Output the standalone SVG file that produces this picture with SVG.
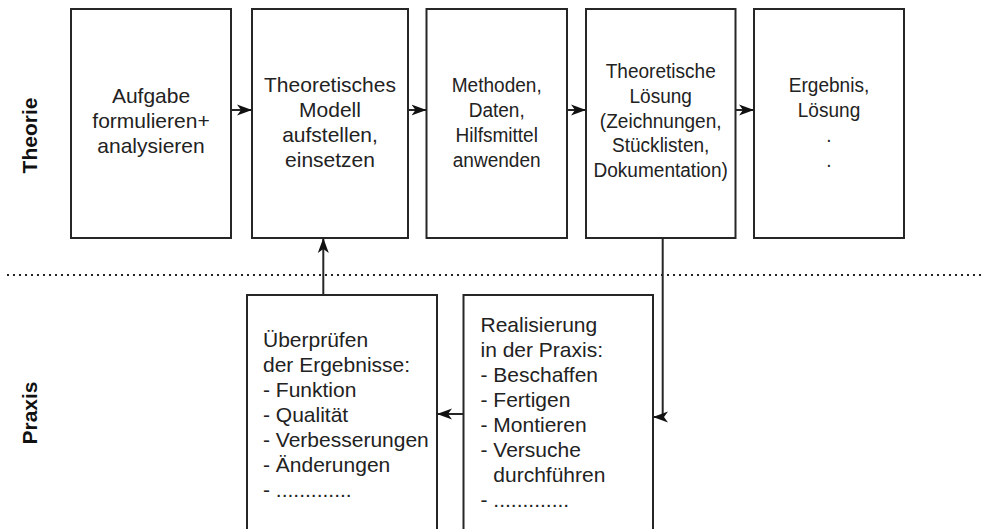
<svg xmlns="http://www.w3.org/2000/svg" width="982" height="529" viewBox="0 0 982 529">
<style>
.box{fill:#fff;stroke:#262626;stroke-width:2}
.t{font-family:"Liberation Sans",Arial,sans-serif;font-size:21px;fill:#222}
.c{text-anchor:middle}
.lbl{font-family:"Liberation Sans",Arial,sans-serif;font-size:21px;font-weight:bold;fill:#111;text-anchor:middle}
.con{fill:none;stroke:#262626;stroke-width:2}
.sep{fill:none;stroke:#222;stroke-width:2;stroke-dasharray:2 4}
</style>
<defs>
<marker id="arr" markerUnits="userSpaceOnUse" markerWidth="16" markerHeight="12" refX="15" refY="6" orient="auto">
<path d="M0,0.5 L15,6 L0,11.5 L4,6 Z" fill="#111"/>
</marker>
</defs>
<rect width="982" height="529" fill="#fff"/>
<line class="sep" x1="7" y1="275" x2="982" y2="275"/>
<text class="lbl" transform="translate(37,135.5) rotate(-90)">Theorie</text>
<text class="lbl" transform="translate(37,413) rotate(-90)">Praxis</text>
<g id="n1">
<rect class="box" x="71" y="9" width="160" height="229"/>
<text class="t c"><tspan x="151" y="103">Aufgabe</tspan><tspan x="151" y="128">formulieren+</tspan><tspan x="151" y="153">analysieren</tspan></text>
</g>
<g id="n2">
<rect class="box" x="252" y="9" width="156" height="229"/>
<text class="t c"><tspan x="330" y="91.7">Theoretisches</tspan><tspan x="330" y="116.7">Modell</tspan><tspan x="330" y="141.7">aufstellen,</tspan><tspan x="330" y="166.7">einsetzen</tspan></text>
</g>
<g id="n3">
<rect class="box" x="426.5" y="9" width="140.5" height="229"/>
<text class="t c" transform="translate(496.7,0) scale(0.907,1)"><tspan x="0" y="91.7">Methoden,</tspan><tspan x="0" y="116.7">Daten,</tspan><tspan x="0" y="141.7">Hilfsmittel</tspan><tspan x="0" y="166.7">anwenden</tspan></text>
</g>
<g id="n4">
<rect class="box" x="586" y="9" width="149.5" height="229"/>
<text class="t c" transform="translate(660.7,0) scale(0.907,1)"><tspan x="0" y="78.3">Theoretische</tspan><tspan x="0" y="103">Lösung</tspan><tspan x="0" y="127.7">(Zeichnungen,</tspan><tspan x="0" y="152.4">Stücklisten,</tspan><tspan x="0" y="177.1">Dokumentation)</tspan></text>
</g>
<g id="n5">
<rect class="box" x="754" y="9" width="150" height="229"/>
<text class="t c" transform="translate(829,0) scale(0.907,1)"><tspan x="0" y="91.7">Ergebnis,</tspan><tspan x="0" y="116.7">Lösung</tspan><tspan x="0" y="141.7">.</tspan><tspan x="0" y="166.7">.</tspan></text>
</g>
<g id="n6">
<rect class="box" x="247" y="295" width="190" height="250"/>
<text class="t"><tspan x="263" y="346.7">Überprüfen</tspan><tspan x="263" y="371.7">der Ergebnisse:</tspan><tspan x="263" y="396.7">- Funktion</tspan><tspan x="263" y="421.7">- Qualität</tspan><tspan x="263" y="446.7">- Verbesserungen</tspan><tspan x="263" y="471.7">- Änderungen</tspan><tspan x="263" y="496.7">- .............</tspan></text>
</g>
<g id="n7">
<rect class="box" x="463.5" y="295" width="189.5" height="250"/>
<text class="t"><tspan x="480.5" y="331.7">Realisierung</tspan><tspan x="480.5" y="356.7">in der Praxis:</tspan><tspan x="480.5" y="381.7">- Beschaffen</tspan><tspan x="480.5" y="406.7">- Fertigen</tspan><tspan x="480.5" y="431.7">- Montieren</tspan><tspan x="480.5" y="456.7">- Versuche</tspan><tspan x="493.3" y="481.7">durchführen</tspan><tspan x="480.5" y="506.7">- .............</tspan></text>
</g>
<g id="connectors">
<path class="con" d="M231,110 L252,110" marker-end="url(#arr)"/>
<path class="con" d="M408,110 L426.5,110" marker-end="url(#arr)"/>
<path class="con" d="M567,110 L586,110" marker-end="url(#arr)"/>
<path class="con" d="M735.5,110 L754,110" marker-end="url(#arr)"/>
<path class="con" d="M662.7,238 L662.7,417 L653,417" marker-end="url(#arr)"/>
<path class="con" d="M463.5,414 L437,414" marker-end="url(#arr)"/>
<path class="con" d="M323.3,295 L323.3,238" marker-end="url(#arr)"/>
</g>
</svg>
